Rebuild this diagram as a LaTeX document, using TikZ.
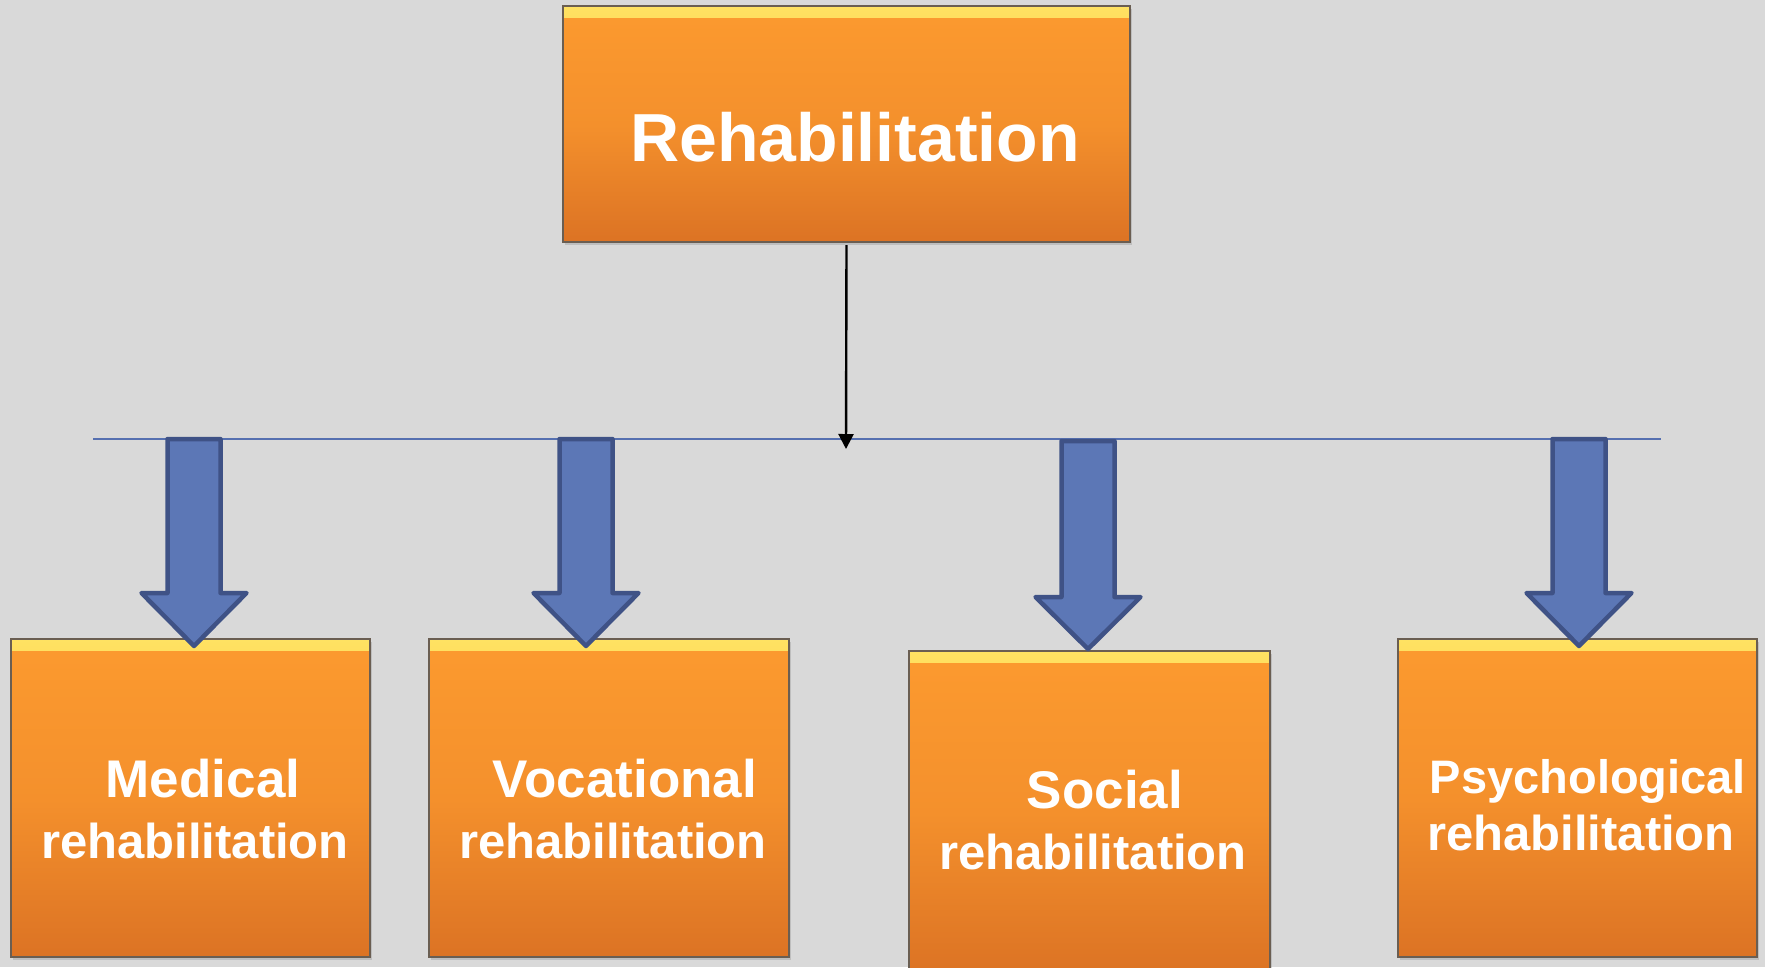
\documentclass[tikz,border=0pt]{standalone}
\usepackage{fontspec}
\setmainfont{Liberation Sans}
\usetikzlibrary{arrows.meta,calc,shadows}
\definecolor{bgc}{HTML}{D9D9D9}
\definecolor{otop}{HTML}{FC9A2F}
\definecolor{obot}{HTML}{DC7324}
\definecolor{ohl}{HTML}{FFE262}
\definecolor{oedge}{HTML}{6A5E52}
\definecolor{afill}{HTML}{5C77B6}
\definecolor{aedge}{HTML}{3F5286}
\definecolor{hline}{HTML}{5670B0}
\tikzset{
  obox/.style={rectangle, inner sep=0pt, outer sep=0pt, draw=oedge, line width=2.8pt,
    top color=otop, bottom color=obot, middle color=otop!75!obot,
    drop shadow={shadow xshift=2pt, shadow yshift=-3pt, opacity=0.3},
    path picture={\fill[top color=ohl, bottom color=otop]
      (path picture bounding box.north west) rectangle ([yshift=-11pt]path picture bounding box.north east);}},
  btxt/.style={text=white, font=\bfseries\fontsize{49}{58}\selectfont, anchor=base, inner sep=0pt},
  bigtxt/.style={btxt, font=\bfseries\fontsize{53}{62}\selectfont},
  blockarrow/.style={fill=afill, draw=aedge, line width=4.5pt, line join=round},
  thinline/.style={draw=hline, line width=1.6pt},
  conn/.style={draw=black, line width=2.4pt, -{Triangle[width=15pt,length=15pt]}}
}
\begin{document}
\begin{tikzpicture}[x=1pt,y=-1pt]
\fill[bgc] (0,0) rectangle (1765,967);
\useasboundingbox (0,0) rectangle (1765,967);

% top box
\node[obox, minimum width=567pt, minimum height=236pt] (top) at (846.5,124) {};
\node[btxt, font=\bfseries\fontsize{68}{80}\selectfont] (toptxt) at (855,161) {Rehabilitation};

% horizontal line
\coordinate (hl) at (93,439);
\coordinate (hr) at (1661,439);
\draw[thinline] (hl) -- (hr);

% connector
\coordinate (cend) at (846,449);
\draw[conn] ([yshift=-3pt]top.south) -- (cend);

% bottom boxes
\node[obox, minimum width=359pt, minimum height=318pt] (b1) at (190.5,798) {};
\node[obox, minimum width=360pt, minimum height=318pt] (b2) at (609,798) {};
\node[obox, minimum width=361pt, minimum height=322pt] (b3) at (1089.5,812) {};
\node[obox, minimum width=359pt, minimum height=318pt] (b4) at (1577.5,798) {};

% texts
\node[bigtxt] (t1a) at (203,797) {Medical};
\node[btxt] (t1b) at (195,858) {rehabilitation};
\node[bigtxt] (t2a) at (625,797) {Vocational};
\node[btxt] (t2b) at (613,858) {rehabilitation};
\node[bigtxt] (t3a) at (1105,808) {Social};
\node[btxt] (t3b) at (1093,869) {rehabilitation};
\node[btxt, font=\bfseries\fontsize{47}{56}\selectfont] (t4a) at (1588,793) {Psychological};
\node[btxt] (t4b) at (1581,850) {rehabilitation};

% block arrows
\foreach \cx/\ty/\hy/\tipy in {194/439/593/646, 586/439/593/646, 1088/441/597/649, 1579/439/593/646}{
  \draw[blockarrow] (\cx-26.5,\ty) -- (\cx+26.5,\ty) -- (\cx+26.5,\hy) -- (\cx+52.5,\hy)
    -- (\cx,\tipy) -- (\cx-52.5,\hy) -- (\cx-26.5,\hy) -- cycle;
}
\end{tikzpicture}
\end{document}
